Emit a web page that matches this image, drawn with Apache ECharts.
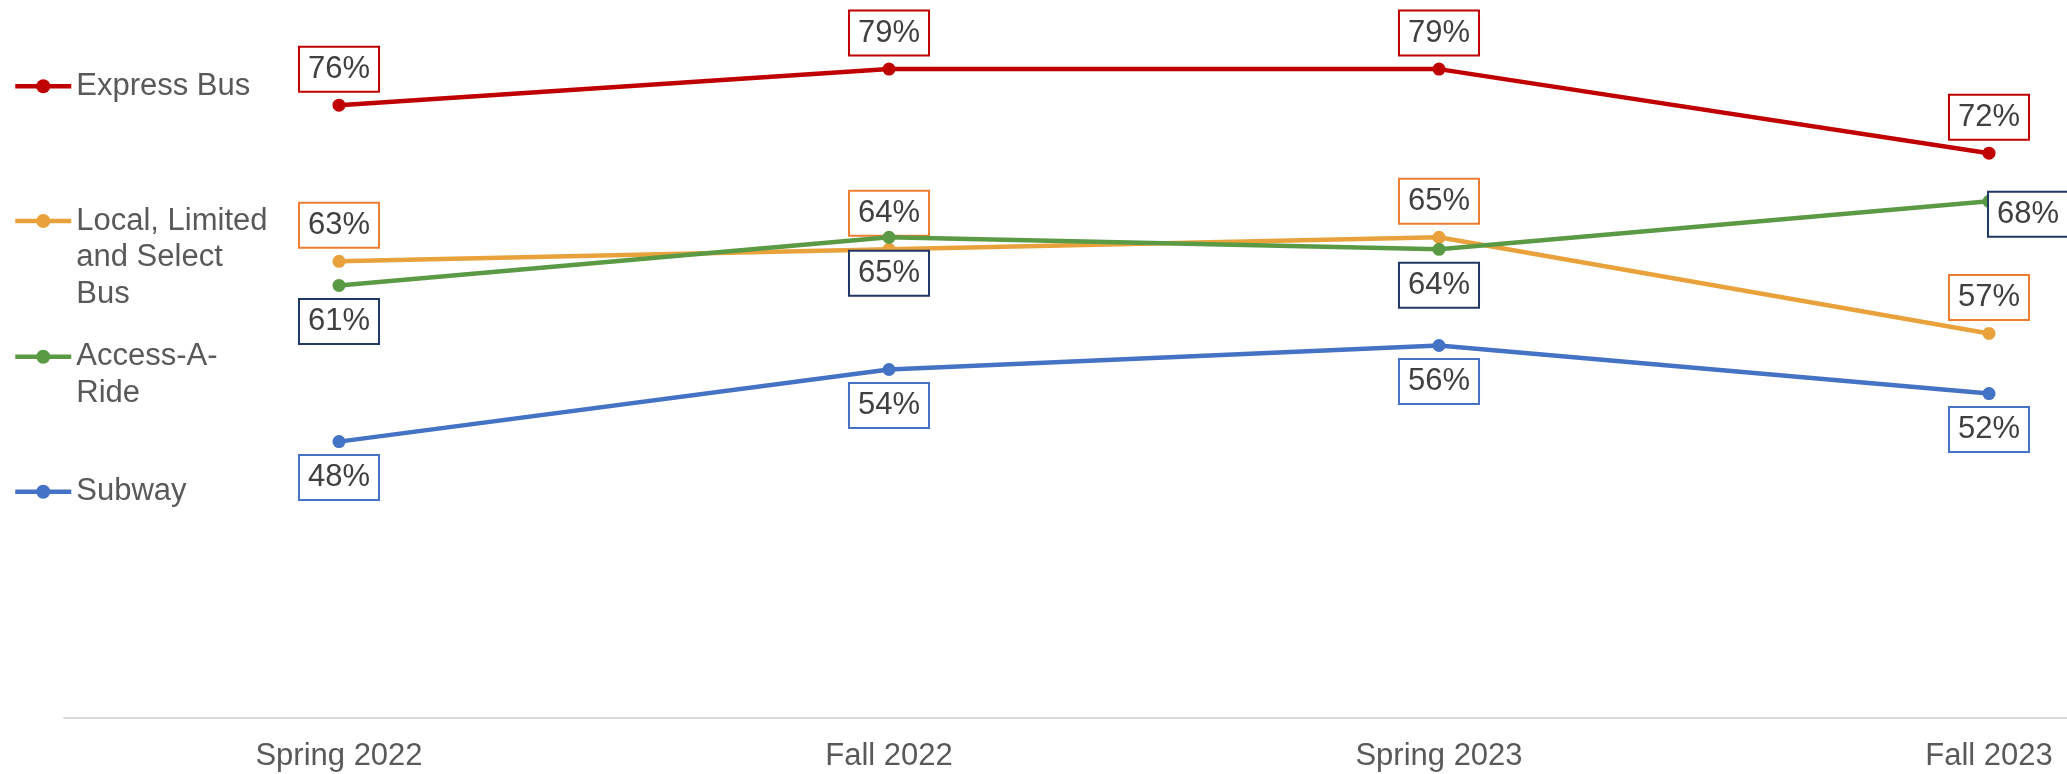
<!DOCTYPE html>
<html>
<head>
<meta charset="utf-8">
<script src="https://cdn.jsdelivr.net/npm/echarts@6/dist/echarts.min.js"></script>
<style>
html,body{margin:0;padding:0;background:#fff;}
#chart{width:2067px;height:774px;}
</style>
</head>
<body>
<div id="chart"></div>
<script>
const categories = ['Spring 2022', 'Fall 2022', 'Spring 2023', 'Fall 2023'];
const seriesNames = ['Express Bus', 'Local, Limited and Select Bus', 'Access-A-Ride', 'Subway'];
const expressBus = [76, 79, 79, 72];
const localBus = [63, 64, 65, 57];
const accessARide = [61, 65, 64, 68];
const subway = [48, 54, 56, 52];
// legend text, with leading blank lines so the first text line sits on the icon
const legendText = {
  'Express Bus': 'Express Bus',
  'Local, Limited and Select Bus': '\n\nLocal, Limited\nand Select\nBus',
  'Access-A-Ride': '\nAccess-A-\nRide',
  'Subway': 'Subway'
};

const FONT = '"Liberation Sans", Arial, sans-serif';
const lineColors = ['#C00000', '#E9A23B', '#5B9A44', '#4472C4'];
const boxColors = ['#C00000', '#ED7D31', '#1F3864', '#4472C4'];
const LH = 36.5;

function labelStyle(i, pos) {
  return {
    show: true,
    position: pos,
    distance: 8,
    formatter: '{c}%',
    color: '#404040',
    fontFamily: FONT,
    fontSize: 31,
    lineHeight: 31,
    backgroundColor: '#ffffff',
    borderColor: boxColors[i],
    borderWidth: 2,
    padding: [6, 8, 6, 8]
  };
}

function makeSeries(i, values, pos, special) {
  return {
    name: seriesNames[i],
    type: 'line',
    data: values.map(function (v, j) {
      if (special && special[j]) {
        return { value: v, label: special[j] };
      }
      return v;
    }),
    symbol: 'circle',
    symbolSize: 13,
    lineStyle: { color: lineColors[i], width: 4.5 },
    itemStyle: { color: lineColors[i] },
    label: labelStyle(i, pos),
    emphasis: { disabled: true },
    animation: false,
    z: 2 + i
  };
}

function legendFor(i, top) {
  return {
    data: [seriesNames[i]],
    left: 13,
    top: top,
    padding: 0,
    orient: 'vertical',
    itemWidth: 56,
    itemHeight: 17.5,
    selectedMode: false,
    lineStyle: { width: 4.5, color: lineColors[i] },
    itemStyle: { color: lineColors[i] },
    formatter: function (n) { return legendText[n]; },
    textStyle: {
      color: '#595959',
      fontFamily: FONT,
      fontSize: 31,
      lineHeight: LH
    }
  };
}

const chart = echarts.init(document.getElementById('chart'), null, { renderer: 'canvas' });
chart.setOption({
  backgroundColor: '#ffffff',
  animation: false,
  textStyle: { fontFamily: FONT },
  legend: [
    legendFor(0, 68),
    legendFor(1, 129.75),
    legendFor(2, 302),
    legendFor(3, 473.5)
  ],
  grid: { left: 64, top: -3, width: 2200, height: 721, containLabel: false, outerBoundsMode: 'none' },
  xAxis: {
    type: 'category',
    data: categories,
    boundaryGap: true,
    axisLine: { show: true, lineStyle: { color: '#D9D9D9', width: 2 } },
    axisTick: { show: false },
    axisLabel: { color: '#595959', fontFamily: FONT, fontSize: 31, margin: 23 },
    splitLine: { show: false }
  },
  yAxis: {
    type: 'value',
    min: 25,
    max: 85,
    show: false,
    splitLine: { show: false }
  },
  series: [
    makeSeries(0, expressBus, 'top'),
    makeSeries(1, localBus, 'top'),
    makeSeries(2, accessARide, 'bottom', { 3: { position: 'right', distance: -6.5, offset: [0, 13] } }),
    makeSeries(3, subway, 'bottom')
  ]
});
</script>
</body>
</html>
